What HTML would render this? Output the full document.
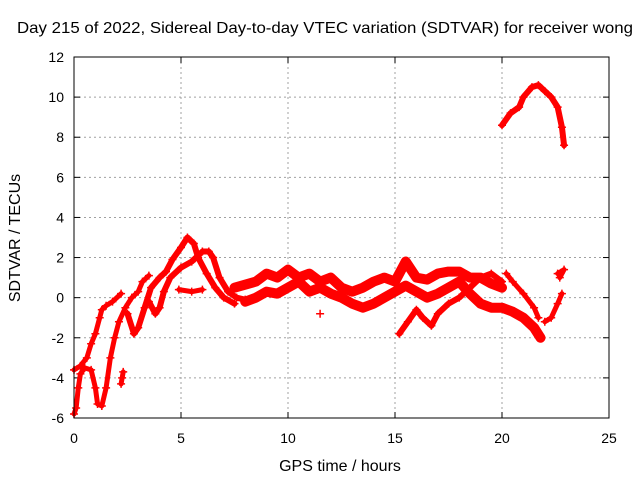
<!DOCTYPE html>
<html><head><meta charset="utf-8"><style>
body{margin:0;background:#fff}
svg text{font-family:"Liberation Sans",sans-serif;font-size:14px;fill:#000}
svg text.big{font-size:16px}
</style></head><body>
<svg id="chart" width="640" height="480" xmlns="http://www.w3.org/2000/svg">
<rect width="640" height="480" fill="#fff"/>
<text class="big" x="325" y="33" text-anchor="middle" textLength="616" lengthAdjust="spacingAndGlyphs">Day 215 of 2022, Sidereal Day-to-day VTEC variation (SDTVAR) for receiver wong</text>
<text class="big" x="340" y="471" text-anchor="middle">GPS time / hours</text>
<text class="big" transform="translate(20,238) rotate(-90)" text-anchor="middle">SDTVAR / TECUs</text>
<g id="grid"></g><g id="ticks"></g><g id="marks"></g>
<rect x="74" y="57" width="535" height="361" fill="none" stroke="#000" stroke-width="1"/>
</svg>
<script>
const xTicks=[0,5,10,15,20,25];
const yTicks=[-6,-4,-2,0,2,4,6,8,10,12];
const trackA=[[0,-5.8],[0.1,-5.5],[0.2,-4.5],[0.3,-3.8],[0.5,-3.5],[0.8,-3.6],[1.0,-4.5],[1.1,-5.3],[1.3,-5.4],[1.5,-4.5],[1.7,-3.0],[1.9,-2.0],[2.1,-1.2],[2.4,-0.5],[2.7,0],[3.0,0.3],[3.2,0.8],[3.5,1.1]];
const trackB=[[0,-3.6],[0.3,-3.4],[0.6,-3.0],[0.8,-2.3],[1.0,-1.8],[1.2,-1.0],[1.3,-0.6],[1.5,-0.4],[1.8,-0.2],[2.2,0.2]];
const trackC=[[2.2,-4.3],[2.25,-4.0],[2.3,-3.7]];
const trackD=[[2.5,-0.8],[2.8,-1.8],[3.0,-1.5],[3.3,-0.5],[3.6,0.5],[4.0,1.0],[4.3,1.3],[4.6,1.9],[5.0,2.5],[5.3,3.0],[5.6,2.7],[5.8,2.0],[6.2,1.2],[6.6,0.5],[7.0,0],[7.5,-0.3]];
const trackE=[[3.5,-0.2],[3.8,-0.8],[4.0,-0.5],[4.2,0.3],[4.5,1.0],[5.0,1.5],[5.5,1.8],[6.0,2.3],[6.3,2.3],[6.5,2.0],[6.8,1.0],[7.2,0.3],[7.6,0],[8,-0.1]];
const trackF=[[4.9,0.4],[5.5,0.3],[6.0,0.4]];
const upperBand=[[7.5,0.5],[8.5,0.8],[9,1.2],[9.5,1.0],[10,1.4],[10.5,1.0],[11,1.2],[11.5,0.8],[12,1.0],[12.5,0.5],[13,0.3],[13.5,0.5],[14,0.8],[14.5,1.0],[15,0.8],[15.5,1.8],[16,1.0],[16.5,0.9],[17,1.2],[17.5,1.3],[18,1.3],[18.5,1.0],[19,1.0],[19.5,0.7],[20,0.5]];
const lowerBand=[[8,-0.2],[8.5,0],[9,0.3],[9.5,0.2],[10,0.5],[10.5,0.8],[11,0.3],[11.5,0.5],[12,0.2],[12.5,0],[13,-0.3],[13.5,-0.5],[14,-0.3],[14.5,0],[15,0.3],[15.5,0.6],[16,0.3],[16.5,0],[17,0.2],[17.5,0.5],[18,0.8],[18.5,0.2],[19,-0.3],[19.5,-0.5],[20,-0.5],[20.5,-0.7],[21,-1.0],[21.5,-1.5],[21.8,-2.0]];
const trackG=[[15.2,-1.8],[15.6,-1.2],[16,-0.6],[16.3,-1.0],[16.7,-1.4],[17,-0.8],[17.5,-0.3],[18,0],[18.5,0.5],[19,1.0],[19.5,1.2],[20,0.8]];
const trackH=[[11.5,-0.8]];
const trackI=[[20.2,1.2],[20.5,0.8],[21,0.2],[21.5,-0.5],[21.7,-1.0]];
const trackJ=[[22,-1.2],[22.3,-1.0],[22.6,-0.3],[22.8,0.2]];
const trackK=[[22.6,1.2],[22.9,1.4],[22.7,1.0]];
const trackL=[[20,8.6],[20.4,9.2],[20.8,9.5],[21,10.0],[21.4,10.5],[21.7,10.6],[22,10.3],[22.3,10.0],[22.6,9.5],[22.8,8.5],[22.9,7.6]];
const tracks=[trackA,trackB,trackC,trackD,trackE,trackF,upperBand,lowerBand,trackG,trackH,trackI,trackJ,trackK,trackL];
const widths=[5,5,5,6,6,5,10,10,6,5,5,5,5,6];
const NS="http://www.w3.org/2000/svg";
const X=v=>74+v*(535/25), Y=v=>418-(v+6)*(361/18);
function mk(t,a,p){const e=document.createElementNS(NS,t);for(const k in a)e.setAttribute(k,a[k]);p.appendChild(e);return e;}
const grid=document.getElementById('grid'),ticks=document.getElementById('ticks'),marks=document.getElementById('marks');
xTicks.forEach(v=>{const x=X(v);
 if(v>0&&v<25){const g=mk('line',{x1:x,x2:x,y1:57,y2:418,stroke:'#a0a0a0','stroke-dasharray':'2,3'},grid);
 
 }
 mk('line',{x1:x,x2:x,y1:418,y2:412,stroke:'#000'},ticks);mk('line',{x1:x,x2:x,y1:57,y2:63,stroke:'#000'},ticks);
 const t=mk('text',{x:x,y:443,'text-anchor':'middle'},ticks);t.textContent=v;
 
 });
yTicks.forEach(v=>{const y=Y(v);
 if(v>-6&&v<12){const g=mk('line',{x1:74,x2:609,y1:y,y2:y,stroke:'#a0a0a0','stroke-dasharray':'2,3'},grid);
 
 }
 mk('line',{x1:74,x2:80,y1:y,y2:y,stroke:'#000'},ticks);mk('line',{x1:609,x2:603,y1:y,y2:y,stroke:'#000'},ticks);
 const t=mk('text',{x:64,y:y+5,'text-anchor':'end'},ticks);t.textContent=v;
 
 });
tracks.forEach((tr,i)=>{
 const pl=mk('polyline',{points:tr.map(p=>X(p[0])+','+Y(p[1])).join(' '),fill:'none',stroke:'#ff0000','stroke-width':widths[i],'stroke-linejoin':'round','stroke-linecap':'round'},marks);
 
 
 tr.forEach(p=>{const x=X(p[0]),y=Y(p[1]);
  const m=mk('path',{d:`M${x-4},${y}H${x+4}M${x},${y-4}V${y+4}`,stroke:'#ff0000','stroke-width':1.5},marks);
  
  });
});
</script>
</body></html>
